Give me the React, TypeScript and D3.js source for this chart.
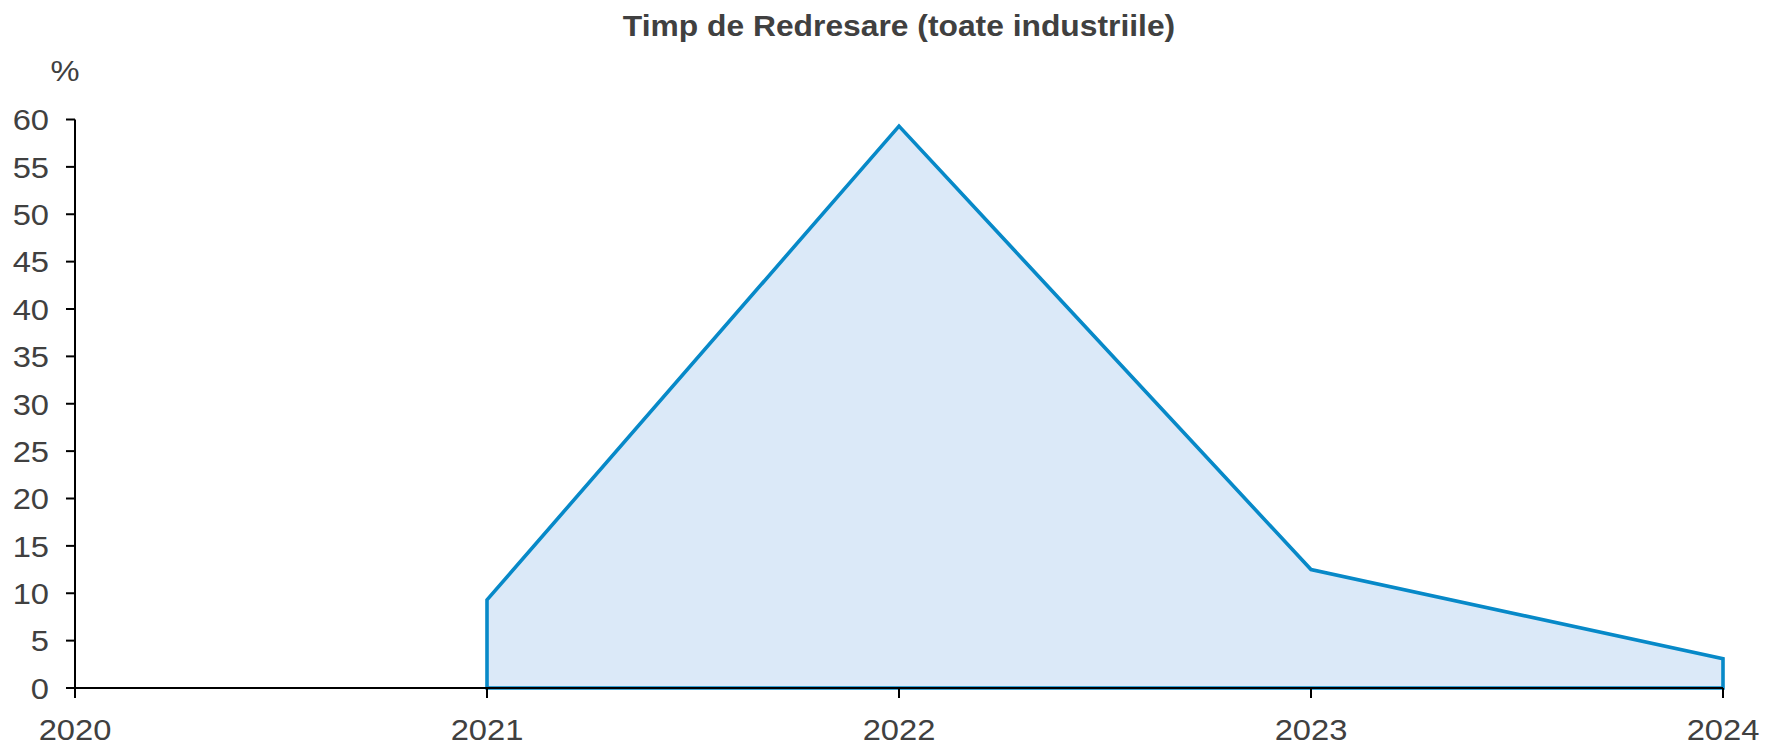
import React from "react";
import * as d3 from "d3";

const years = [2020, 2021, 2022, 2023, 2024];
const seriesYears = [2021, 2022, 2023, 2024];
const seriesValues = [9.3, 59.3, 12.5, 3.1];
const yTicks = [0, 5, 10, 15, 20, 25, 30, 35, 40, 45, 50, 55, 60];
const title = "Timp de Redresare (toate industriile)";
const unitLabel = "%";

const W = 1765;
const H = 744;
const FONT = "'Liberation Sans', Arial, Helvetica, sans-serif";
const TEXT = "#404040";
const LINE = "#0789c8";
const FILL = "#dbe9f8";
const SX = 1.09;

export default function App() {
  const x = d3.scalePoint<number>().domain(years).range([75, 1723]);
  const y = d3.scaleLinear().domain([0, 60]).range([688, 119.5]);

  const data = seriesYears.map((yr, i) => ({ yr, v: seriesValues[i] }));
  const area = d3
    .area<{ yr: number; v: number }>()
    .x((d) => x(d.yr) as number)
    .y0(y(0))
    .y1((d) => y(d.v));
  const areaPath = area(data) || "";

  const x0 = x(years[0]) as number;
  const x1 = x(years[years.length - 1]) as number;

  return (
    <svg
      width={W}
      height={H}
      style={{ position: "absolute", left: 0, top: 0, background: "#fff" }}
      fontFamily={FONT}
    >
      <rect x={0} y={0} width={W} height={H} fill="#fff" />
      <g transform={`translate(${(x0 + x1) / 2},36) scale(1.06,1)`}>
        <text textAnchor="middle" fontSize={30} fontWeight="bold" fill={TEXT}>
          {title}
        </text>
      </g>
      <g transform={`translate(65,81) scale(${SX},1)`}>
        <text textAnchor="middle" fontSize={30} fill={TEXT}>
          {unitLabel}
        </text>
      </g>

      <path
        d={areaPath}
        fill={FILL}
        stroke={LINE}
        strokeWidth={3.6}
        strokeLinejoin="miter"
      />

      {/* y axis */}
      <line x1={x0} x2={x0} y1={y(60)} y2={y(0)} stroke="#000" strokeWidth={2} />
      {yTicks.map((t) => (
        <g key={t}>
          <line x1={x0 - 9} x2={x0} y1={y(t)} y2={y(t)} stroke="#000" strokeWidth={2} />
          <g transform={`translate(49,${y(t)}) scale(${SX},1)`}>
            <text dy="0.36em" textAnchor="end" fontSize={30} fill={TEXT}>
              {t}
            </text>
          </g>
        </g>
      ))}

      {/* x axis */}
      <line x1={x0 - 9} x2={x1} y1={y(0)} y2={y(0)} stroke="#000" strokeWidth={2} />
      {years.map((yr) => (
        <g key={yr}>
          <line
            x1={x(yr) as number}
            x2={x(yr) as number}
            y1={y(0)}
            y2={y(0) + 10}
            stroke="#000"
            strokeWidth={2}
          />
          <g transform={`translate(${x(yr) as number},740) scale(${SX},1)`}>
            <text textAnchor="middle" fontSize={30} fill={TEXT}>
              {yr}
            </text>
          </g>
        </g>
      ))}
    </svg>
  );
}
